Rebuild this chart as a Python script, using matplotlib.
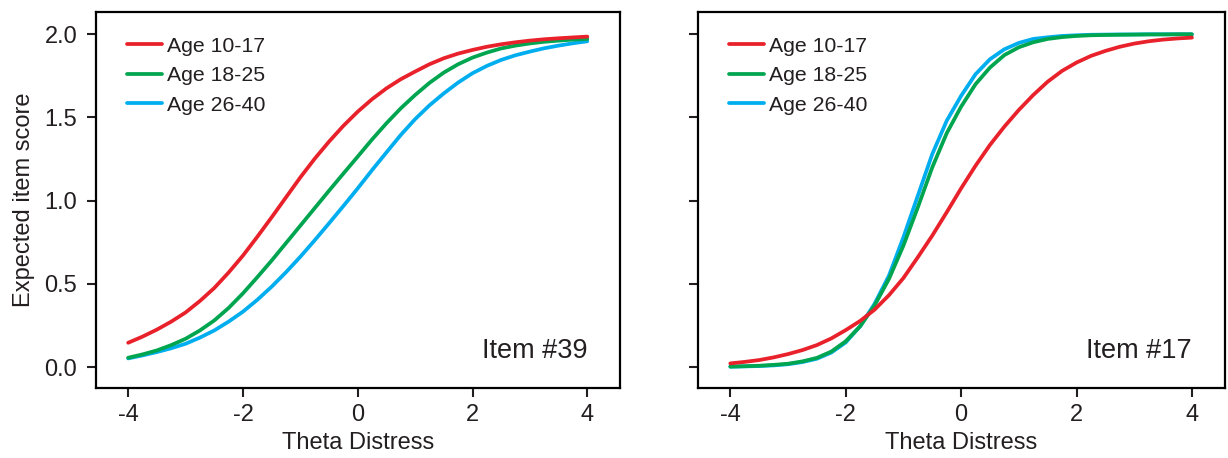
import numpy as np
import matplotlib
matplotlib.use("Agg")
import matplotlib.pyplot as plt

plt.rcParams['font.family'] = ['Liberation Sans', 'DejaVu Sans']

# --- values (theta every 0.25) ---
theta = [-4, -3.75, -3.5, -3.25, -3, -2.75, -2.5, -2.25, -2, -1.75, -1.5, -1.25, -1, -0.75, -0.5, -0.25,
         0, 0.25, 0.5, 0.75, 1, 1.25, 1.5, 1.75, 2, 2.25, 2.5, 2.75, 3, 3.25, 3.5, 3.75, 4]

# Item #39
item39_a10 = [0.146, 0.183, 0.225, 0.273, 0.328, 0.397, 0.475, 0.568, 0.670, 0.783, 0.900, 1.020, 1.140, 1.252, 1.355, 1.450,
              1.535, 1.610, 1.675, 1.730, 1.776, 1.820, 1.856, 1.884, 1.906, 1.925, 1.940, 1.952, 1.962, 1.970, 1.976, 1.981, 1.986]
item39_a18 = [0.056, 0.076, 0.100, 0.132, 0.170, 0.220, 0.280, 0.355, 0.443, 0.540, 0.640, 0.745, 0.850, 0.955, 1.060, 1.163,
              1.265, 1.368, 1.465, 1.555, 1.635, 1.708, 1.770, 1.820, 1.860, 1.890, 1.915, 1.932, 1.945, 1.955, 1.962, 1.968, 1.972]
item39_a26 = [0.052, 0.070, 0.090, 0.113, 0.140, 0.177, 0.220, 0.273, 0.333, 0.404, 0.483, 0.570, 0.663, 0.762, 0.864, 0.968,
              1.074, 1.184, 1.290, 1.395, 1.490, 1.573, 1.645, 1.710, 1.766, 1.810, 1.846, 1.874, 1.896, 1.916, 1.932, 1.946, 1.958]

# Item #17
item17_a10 = [0.022, 0.031, 0.042, 0.058, 0.078, 0.102, 0.132, 0.172, 0.222, 0.277, 0.345, 0.432, 0.535, 0.660, 0.790, 0.930,
              1.074, 1.210, 1.335, 1.445, 1.545, 1.635, 1.715, 1.780, 1.830, 1.870, 1.900, 1.925, 1.944, 1.958, 1.968, 1.975, 1.980]
item17_a18 = [0.003, 0.005, 0.008, 0.013, 0.020, 0.034, 0.055, 0.093, 0.155, 0.245, 0.370, 0.530, 0.730, 0.960, 1.200, 1.405,
              1.565, 1.700, 1.800, 1.875, 1.922, 1.952, 1.972, 1.983, 1.990, 1.994, 1.996, 1.997, 1.998, 1.999, 1.999, 2.000, 2.000]
item17_a26 = [0.002, 0.004, 0.006, 0.010, 0.017, 0.030, 0.050, 0.087, 0.148, 0.245, 0.380, 0.550, 0.780, 1.030, 1.280, 1.480,
              1.630, 1.760, 1.850, 1.910, 1.948, 1.972, 1.982, 1.990, 1.994, 1.997, 1.998, 1.999, 1.999, 2.000, 2.000, 2.000, 2.000]

groups = ["Age 10-17", "Age 18-25", "Age 26-40"]
colors = ["#E8212B", "#00A550", "#00AEEF"]
xticks = [-4, -2, 0, 2, 4]
yticks = [0.0, 0.5, 1.0, 1.5, 2.0]

panels = [
    ("Item #39", [item39_a10, item39_a18, item39_a26]),
    ("Item #17", [item17_a10, item17_a18, item17_a26]),
]

txt = "#231F20"
fig = plt.figure(figsize=(12.28, 4.58), dpi=100)
positions = [[0.0782, 0.1528, 0.4267, 0.8203], [0.5684, 0.1528, 0.4290, 0.8203]]

for i, (title, series) in enumerate(panels):
    ax = fig.add_axes(positions[i])
    handles = []
    for k, (vals, lab, c) in enumerate(zip(series, groups, colors)):
        h, = ax.plot(theta, vals, color=c, lw=2.7, label=lab, zorder=5 - k,
                     solid_capstyle='round', solid_joinstyle='round')
        handles.append(h)
    ax.set_xlim(-4.56, 4.57)
    ax.set_ylim(-0.126, 2.132)
    ax.set_xticks(xticks)
    ax.set_xticklabels([str(t) for t in xticks])
    ax.set_yticks(yticks)
    if i == 0:
        ax.set_yticklabels([f"{t:.1f}" for t in yticks])
        ax.set_ylabel("Expected item score", fontsize=17, color=txt, labelpad=7)
    else:
        ax.set_yticklabels([])
    ax.set_xlabel("Theta Distress", fontsize=17, color=txt)
    ax.xaxis.set_label_coords(0.5, -0.118)
    ax.tick_params(axis='both', length=6.5, width=1.5, labelsize=17, colors=txt)
    ax.tick_params(axis='x', pad=5)
    ax.tick_params(axis='y', pad=7)
    for sp in ax.spines.values():
        sp.set_linewidth(1.6)
        sp.set_color("black")
    ax.text(4, 0.052, title, ha='right', va='baseline', fontsize=19.5, color=txt)
    leg = ax.legend(handles=handles, loc='upper left', frameon=False, fontsize=15.3,
                    handlelength=1.65, handletextpad=0.25, labelspacing=0.49,
                    borderaxespad=0, borderpad=0, bbox_to_anchor=(0.059, 0.935))
    for t in leg.get_texts():
        t.set_color(txt)

fig.savefig("out.png", dpi=100)
